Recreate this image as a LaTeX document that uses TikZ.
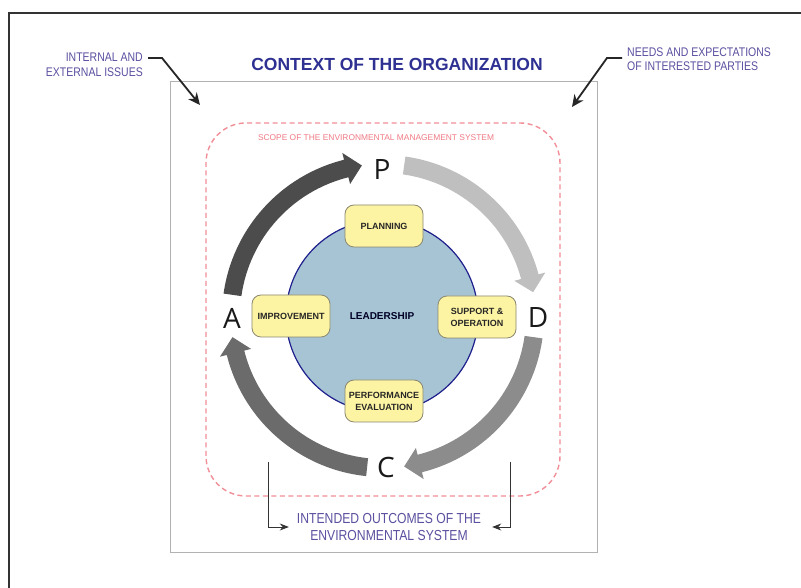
\documentclass[tikz,border=0pt]{standalone}
\usepackage{fontspec}
\setmainfont{Liberation Sans}
\newfontfamily\narrowfont{Liberation Sans}[FakeStretch=0.84]
\newfontfamily\letterfont{Open Sans}
\usetikzlibrary{arrows.meta}

\definecolor{titleblue}{HTML}{2E3192}
\definecolor{labelblue}{HTML}{5A50A0}
\definecolor{scopered}{HTML}{F07A85}
\definecolor{leadfill}{HTML}{A6C4D4}
\definecolor{leadline}{HTML}{1E1E8C}
\definecolor{boxfill}{HTML}{FDF4A3}
\definecolor{boxline}{HTML}{8A8770}

\tikzset{
  phase/.style={draw=boxline,fill=boxfill,line width=.8pt,rounded corners=9pt,
    minimum width=78pt,minimum height=42pt,inner sep=1pt,align=center,
    font=\bfseries\fontsize{9}{12}\selectfont,text=black!85},
  pdca/.style={font=\letterfont\fontsize{28}{30}\selectfont,text=black!90,inner sep=0pt},
  pointer/.style={line width=1.8pt,draw=black!85,-{Stealth[length=12pt,width=11pt]}},
  outarrow/.style={line width=.8pt,draw=black!80,-{Stealth[length=9pt,width=7pt]}},
}

% thick arc with a triangular head: start angle, tip angle, colour
\newcommand{\cyclearrow}[3]{%
  \fill[#3] (#1:143) arc[start angle=#1,end angle=#2+6,radius=143]
    -- (#2+6:136) -- (#2:152) -- (#2+6:168) -- (#2+6:161)
    arc[start angle=#2+6,end angle=#1,radius=161] -- cycle;}

\begin{document}
\begin{tikzpicture}[x=1pt,y=1pt]
\path[use as bounding box,fill=white] (0,0) rectangle (801,588);
\draw[line width=2pt,black!80] (9,0) -- (9,575) -- (801,575);
\draw[line width=1pt,black!30] (170,35) rectangle (597,506);

\node[font=\bfseries\fontsize{17.5}{20}\selectfont,text=titleblue] (title) at (397,524) {CONTEXT OF THE ORGANIZATION};
\node[anchor=east,align=right,inner sep=0pt,text=labelblue,font=\narrowfont\fontsize{12.5}{15}\selectfont] (issues) at (143,523) {INTERNAL AND\\EXTERNAL ISSUES};
\node[anchor=west,align=left,inner sep=0pt,text=labelblue,font=\narrowfont\fontsize{12.5}{14}\selectfont] (needs) at (627,529) {NEEDS AND EXPECTATIONS\\OF INTERESTED PARTIES};
\coordinate (issuesbend) at (162,530);
\coordinate (issuestip) at (200,483);
\coordinate (needsbend) at (607,530);
\coordinate (needstip) at (572,481);
\draw[pointer] (issues.east |- issuesbend) ++(5,0) -- (issuesbend) -- (issuestip);
\draw[pointer] (needs.west |- needsbend) ++(-5,0) -- (needsbend) -- (needstip);

% scope of the EMS
\draw[scopered!85,line width=1.4pt,dash pattern=on 5pt off 3.5pt,rounded corners=40pt] (206,92) rectangle (560,465);
\node[text=scopered,font=\fontsize{8.4}{9}\selectfont] (scope) at (376,450) {SCOPE OF THE ENVIRONMENTAL MANAGEMENT SYSTEM};

% plan-do-check-act cycle
\begin{scope}[shift={(383,272)}]
\cyclearrow{172}{98}{black!70}
\cyclearrow{82}{9}{black!25}
\cyclearrow{-8}{-82}{black!45}
\cyclearrow{264}{188}{black!58}
\end{scope}
\node[pdca] (P) at (382,418) {P};
\node[pdca] (D) at (538,270) {D};
\node[pdca] (C) at (386,120) {C};
\node[pdca] (A) at (232,270) {A};

\node[circle,draw=leadline,fill=leadfill,line width=1.2pt,minimum size=192pt,
  font=\bfseries\fontsize{10}{12}\selectfont,text=black!85!blue] (lead) at (382,272) {LEADERSHIP};
\node[phase] (plan) at (384,362) {PLANNING};
\node[phase] (improve) at (291,272) {IMPROVEMENT};
\node[phase] (support) at (477,271) {SUPPORT \&\\OPERATION};
\node[phase] (perform) at (384,187) {PERFORMANCE\\EVALUATION};

% outcomes
\node[align=center,inner sep=0pt,minimum width=200pt,text=labelblue,font=\narrowfont\fontsize{14.5}{17}\selectfont] (outcomes) at (389,61) {INTENDED OUTCOMES OF THE\\ENVIRONMENTAL SYSTEM};
\coordinate (outleft) at (268,126);
\coordinate (outright) at (510,126);
\draw[outarrow] (outleft) |- (outcomes.west);
\draw[outarrow] (outright) |- ([xshift=3pt]outcomes.east);
\end{tikzpicture}
\end{document}
